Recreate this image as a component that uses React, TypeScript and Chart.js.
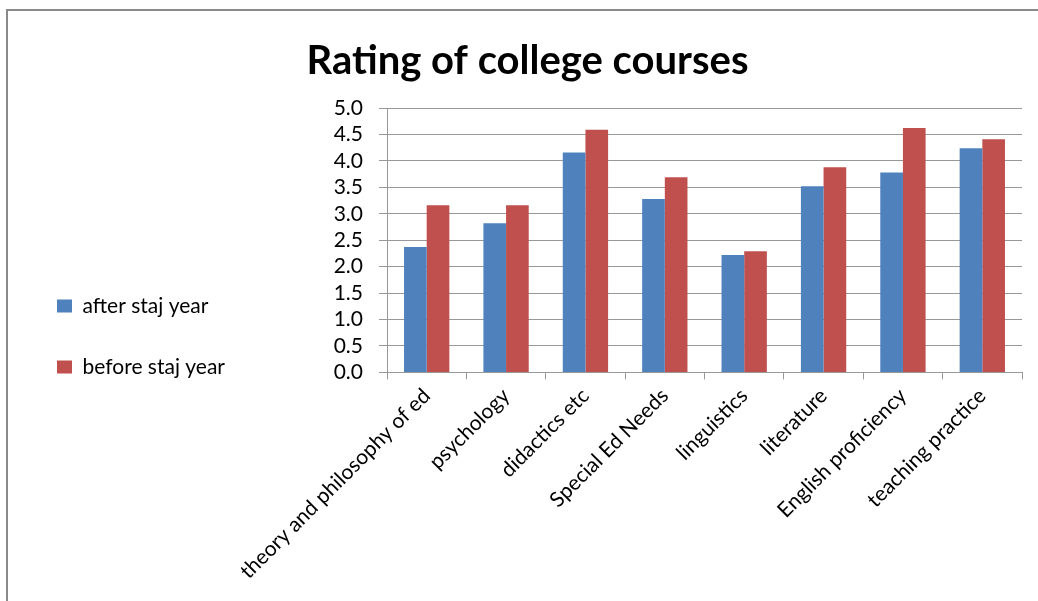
import React, { useEffect, useRef } from "react";
import { Chart, registerables } from "chart.js";

Chart.register(...registerables);

const categories = [
  "theory and philosophy of ed",
  "psychology",
  "didactics etc",
  "Special Ed Needs",
  "linguistics",
  "literature",
  "English proficiency",
  "teaching practice",
];
const afterStajYear = [2.37, 2.82, 4.16, 3.28, 2.22, 3.52, 3.78, 4.24];
const beforeStajYear = [3.16, 3.16, 4.59, 3.69, 2.29, 3.88, 4.62, 4.41];
const seriesNames = ["after staj year", "before staj year"];
const Y_MIN = 0;
const Y_MAX = 5;
const Y_STEP = 0.5;

const FONT = "Lato, 'Open Sans', sans-serif";
const GRID = "#989898";

export default function App() {
  const ref = useRef<HTMLCanvasElement | null>(null);

  useEffect(() => {
    if (!ref.current) return;
    const padBottom = 13;
    const padLeft = 17;
    const chart = new Chart(ref.current, {
      type: "bar",
      data: {
        labels: categories,
        datasets: [
          {
            label: seriesNames[0],
            data: afterStajYear,
            backgroundColor: "#4F81BD",
            categoryPercentage: 0.571,
            barPercentage: 1,
          },
          {
            label: seriesNames[1],
            data: beforeStajYear,
            backgroundColor: "#C0504D",
            categoryPercentage: 0.571,
            barPercentage: 1,
          },
        ],
      },
      options: {
        animation: false,
        responsive: false,
        maintainAspectRatio: false,
        layout: { padding: { left: padLeft, right: 0, top: 0, bottom: padBottom } },
        plugins: {
          tooltip: { enabled: false },
          title: {
            display: true,
            text: "Rating of college courses",
            color: "#000",
            font: { family: FONT, size: 40, weight: "bold" },
            padding: { top: 37, bottom: 23 },
          },
          legend: {
            position: "left",
            align: "center",
            fullSize: true,
            maxWidth: 320,
            title: {
              display: true,
              text: "",
              font: { size: 1, lineHeight: 1 },
              padding: { top: 72 + padBottom - 1, bottom: 0 },
            },
            labels: {
              color: "#000",
              font: { family: FONT, size: 21 },
              boxWidth: 15,
              boxHeight: 13,
              padding: 40,
            },
          },
        },
        scales: {
          x: {
            grid: {
              display: true,
              drawOnChartArea: false,
              drawTicks: true,
              tickLength: 7,
              color: GRID,
              offset: true,
            },
            border: { display: true, color: GRID, width: 1 },
            ticks: {
              color: "#000",
              font: { family: FONT, size: 21 },
              minRotation: 45,
              maxRotation: 45,
              autoSkip: false,
              padding: 4,
            },
          },
          y: {
            min: Y_MIN,
            max: Y_MAX,
            grid: { color: GRID, tickLength: 8, drawTicks: true },
            border: { display: true, color: GRID, width: 1 },
            ticks: {
              stepSize: Y_STEP,
              autoSkip: false,
              color: "#000",
              font: { family: FONT, size: 21 },
              padding: 16,
              callback: (v: any) => Number(v).toFixed(1),
            },
            afterFit: (s: any) => {
              const lg = s.chart.legend;
              s.width = 387 - padLeft - (lg ? lg.width : 0);
            },
          },
          yRight: {
            type: "linear",
            position: "right",
            display: true,
            grid: { display: false },
            border: { display: false },
            ticks: { display: false },
            afterFit: (s: any) => {
              s.width = 16;
            },
          },
        },
      },
    });
    return () => chart.destroy();
  }, []);

  return (
    <div
      style={{
        position: "absolute",
        left: 0,
        top: 0,
        width: 1038,
        height: 601,
        overflow: "hidden",
        background: "#fff",
      }}
    >
      <div
        style={{
          position: "absolute",
          left: 6,
          top: 9,
          width: 1200,
          height: 800,
          border: "2px solid #8a8a8a",
        }}
      />
      <canvas
        ref={ref}
        width={1038}
        height={601}
        style={{ position: "absolute", left: 0, top: 0, width: 1038, height: 601 }}
      />
    </div>
  );
}
